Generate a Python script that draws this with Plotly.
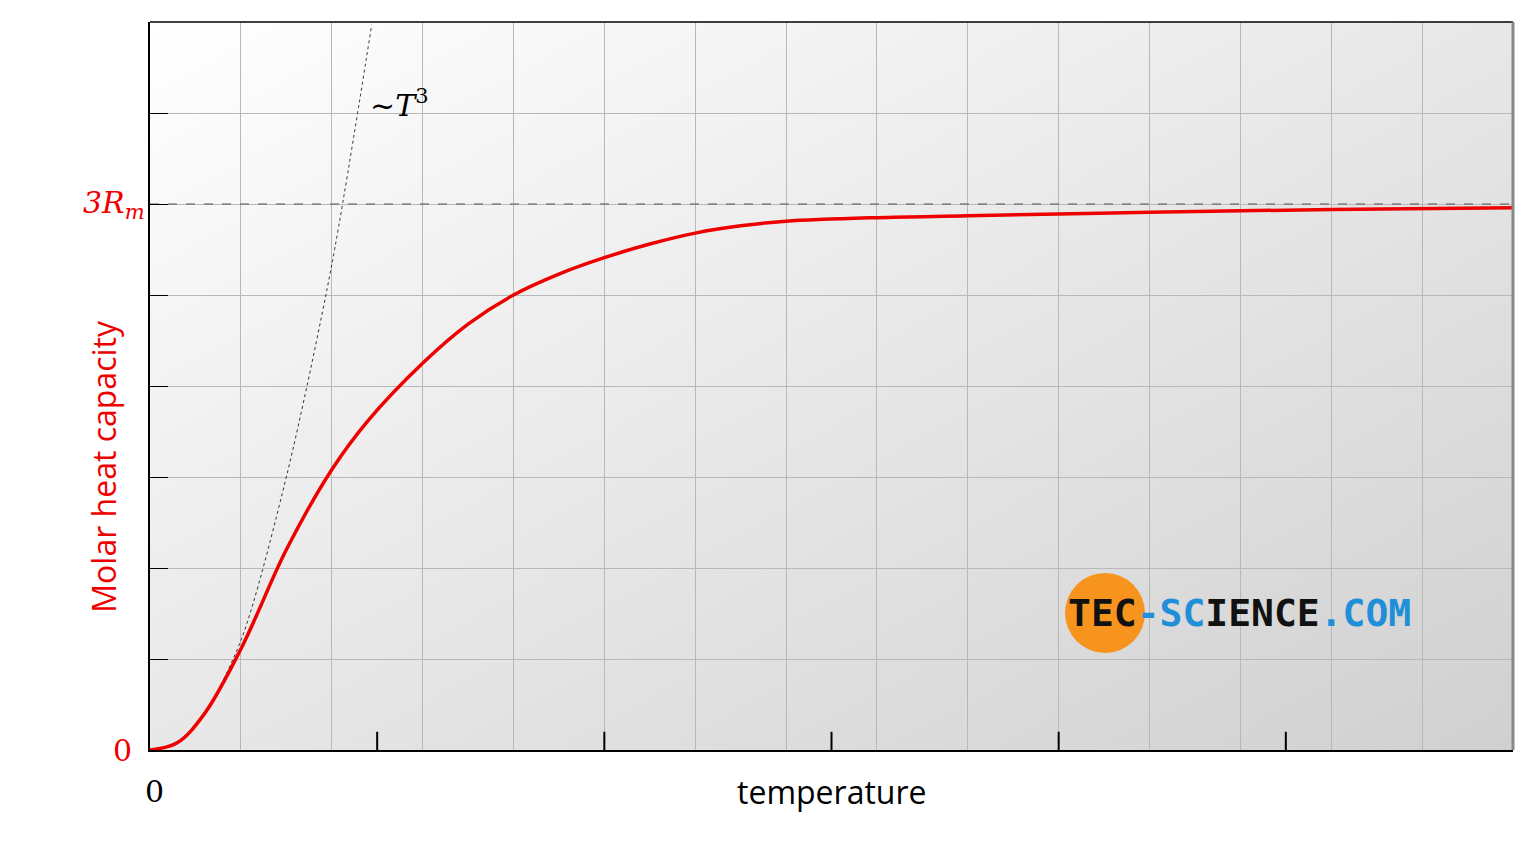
import plotly.graph_objects as go
import base64

# Red curve: molar heat capacity (grid units)
T_cv = [0, 0.3, 0.6, 1.01, 1.5, 2.0, 2.4, 3.0, 3.5, 4.0, 4.5, 5.0, 5.5, 6.0, 6.5, 7.0, 8.0, 9.0, 11.0, 13.0, 15.0]
Cv   = [0, 0.08, 0.40, 1.13, 2.2, 3.08, 3.62, 4.25, 4.68, 5.0, 5.23, 5.41, 5.56, 5.68, 5.76, 5.81, 5.85, 5.87, 5.91, 5.94, 5.96]
# Dotted ~T^3 approximation
T_t3 = [0, 0.3, 0.6, 1.01, 1.51, 2.0, 2.44]
C_t3 = [0, 0.08, 0.40, 1.23, 3.04, 5.33, 7.97]
limit = 6.0

svg = ('<svg xmlns="http://www.w3.org/2000/svg" width="100" height="100" preserveAspectRatio="none">'
       '<defs><linearGradient id="g" x1="0" y1="0" x2="1" y2="1">'
       '<stop offset="0" stop-color="#ffffff"/><stop offset="1" stop-color="#d0d0d0"/>'
       '</linearGradient></defs><rect width="100" height="100" fill="url(#g)"/></svg>')
bg = "data:image/svg+xml;base64," + base64.b64encode(svg.encode()).decode()

L, T, W, H = 142, 14, 1363, 728
def px(x): return (x - 150) / W
def py(y): return (750 - y) / H

fig = go.Figure()
fig.add_trace(go.Scatter(x=T_t3, y=C_t3, mode="lines", line=dict(color="#333", width=1, dash="dot", shape="spline", smoothing=0.8)))
fig.add_trace(go.Scatter(x=T_cv, y=Cv, mode="lines", line=dict(color="#ee0000", width=3.5, shape="spline", smoothing=1)))
fig.add_trace(go.Scatter(x=[0, 15], y=[limit, limit], mode="lines", line=dict(color="#555", width=1.2, dash="dash")))

fig.update_layout(
    width=1536, height=864, showlegend=False, paper_bgcolor="white", plot_bgcolor="rgba(0,0,0,0)",
    margin=dict(l=L, r=1536 - L - W, t=T, b=864 - T - H),
    images=[dict(source=bg, xref="paper", yref="paper", x=0, y=1, sizex=1, sizey=1,
                 sizing="stretch", layer="below")],
    xaxis=dict(range=[0, 15], dtick=1, showgrid=True, gridcolor="#b8b8b8", gridwidth=1,
               showticklabels=False, zeroline=False, showline=True, linecolor="black", linewidth=2),
    yaxis=dict(range=[0, 8], dtick=1, showgrid=True, gridcolor="#b8b8b8", gridwidth=1,
               showticklabels=False, zeroline=False, showline=True, linecolor="black", linewidth=2,
               ticks="inside", ticklen=18, tickcolor="black"),
    shapes=[
        dict(type="line", xref="paper", yref="paper", x0=0, x1=1, y0=1, y1=1, line=dict(color="black", width=1.5)),
        dict(type="line", xref="paper", yref="paper", x0=1, x1=1, y0=0, y1=1, line=dict(color="#888", width=3)),
    ] + [dict(type="line", xref="x", yref="paper", x0=v, x1=v, y0=0, y1=0.025, line=dict(color="black", width=2))
         for v in [2.5, 5, 7.5, 10, 12.5]] + [
        dict(type="circle", xref="paper", yref="paper", x0=px(1065), x1=px(1145),
             y0=py(653), y1=py(573), fillcolor="#f7941d", line=dict(width=0), layer="above"),
    ],
    annotations=[
        dict(text="Molar heat capacity", xref="paper", yref="paper", x=-0.052, xanchor="left", y=0.39, textangle=-90,
             showarrow=False, font=dict(family="Open Sans", size=32, color="#ee0000")),
        dict(text="temperature", xref="paper", yref="paper", x=0.5, y=-0.025, yanchor="top",
             showarrow=False, font=dict(family="Open Sans", size=32, color="black")),
        dict(text="0", xref="x", yref="paper", x=0.05, y=-0.03, yanchor="top", showarrow=False,
             font=dict(family="DejaVu Serif", size=30, color="black")),
        dict(text="0", xref="paper", yref="y", x=-0.012, y=0, xanchor="right", showarrow=False,
             font=dict(family="DejaVu Serif", size=30, color="#ee0000")),
        dict(text="<i>3R<sub>m</sub></i>", xref="paper", yref="y", x=-0.002, y=limit, xanchor="right",
             showarrow=False, font=dict(family="DejaVu Serif", size=30, color="#ee0000")),
        dict(text="<i>~T</i><sup>3</sup>", xref="x", yref="y", x=2.4, y=7.1, xanchor="left",
             showarrow=False, font=dict(family="DejaVu Serif", size=30, color="black")),
        dict(text="<b>TEC<span style='color:#1e8fd8'>-SC</span>IENCE<span style='color:#1e8fd8'>.COM</span></b>",
             xref="paper", yref="paper", x=px(1066), y=py(613), xanchor="left", yanchor="middle",
             showarrow=False, font=dict(family="DejaVu Sans Mono", size=38, color="#111")),
    ],
)
fig.write_html("out.html")
